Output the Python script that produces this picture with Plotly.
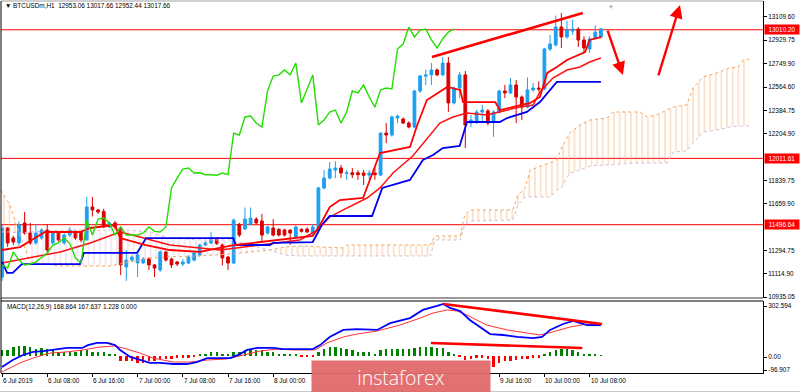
import plotly.graph_objects as go

# ---------------- data ----------------
bars = list(range(107))  # hourly bars from 6 Jul 2019 00:00

opens = [11090, 11471, 11393, 11355, 11510, 11432, 11355, 11393, 11455, 11355,
         11432, 11355, 11416, 11440, 11440, 11380, 11634, 11611, 11600, 11479,
         11510, 11471, 11168, 11222, 11200, 11200, 11230, 11184, 11145, 11285,
         11230, 11207, 11191, 11199, 11222, 11261, 11339, 11355, 11393, 11339,
         11245, 11199, 11500, 11463, 11502, 11540, 11525, 11432, 11471, 11460,
         11455, 11455, 11401, 11460, 11463, 11432, 11455, 11782, 11859, 11921,
         11937, 11895, 11900, 11900, 11898, 11882, 11898, 11882, 12208, 12193,
         12325, 12317, 12286, 12255, 12535, 12650, 12660, 12698, 12660, 12752,
         12442, 12558, 12660, 12286, 12294, 12372, 12380, 12294, 12372, 12535,
         12520, 12582, 12488, 12410, 12543, 12558, 12550, 12861, 12892, 13032,
         12955, 13000, 13016, 12931, 12861, 12947, 12953.06]
highs = [11490, 11479, 11410, 11520, 11596, 11510, 11500, 11470, 11500, 11450,
         11445, 11430, 11480, 11455, 11450, 11712, 11712, 11620, 11620, 11520,
         11525, 11480, 11300, 11260, 11290, 11245, 11245, 11190, 11300, 11295,
         11240, 11215, 11230, 11260, 11290, 11350, 11370, 11440, 11400, 11350,
         11255, 11545, 11510, 11630, 11630, 11555, 11580, 11490, 11540, 11470,
         11465, 11460, 11490, 11470, 11475, 11500, 11790, 11921, 11983, 11990,
         11960, 11921, 11937, 11921, 11921, 11921, 11945, 12215, 12286, 12345,
         12350, 12330, 12300, 12545, 12660, 12700, 12752, 12710, 12799, 12799,
         12570, 12683, 12690, 12350, 12390, 12426, 12395, 12385, 12545, 12582,
         12636, 12620, 12500, 12640, 12598, 12610, 12870, 12970, 13120, 13140,
         13080, 13090, 13030, 12960, 12960, 13047, 13017.66]
lows = [11060, 11324, 11340, 11330, 11420, 11340, 11340, 11380, 11280, 11340,
        11365, 11340, 11400, 11380, 11360, 11370, 11560, 11580, 11470, 11470,
        11460, 11106, 11060, 11210, 11090, 11190, 11145, 11090, 11130, 11210,
        11160, 11175, 11175, 11190, 11210, 11250, 11330, 11345, 11340, 11180,
        11145, 11190, 11400, 11455, 11490, 11500, 11355, 11420, 11405, 11405,
        11405, 11340, 11390, 11435, 11430, 11410, 11440, 11770, 11850, 11859,
        11859, 11845, 11859, 11845, 11805, 11845, 11845, 11875, 12130, 12180,
        12286, 12278, 12245, 12245, 12520, 12582, 12582, 12650, 12650, 12372,
        12430, 12480, 12092, 12255, 12280, 12286, 12270, 12178, 12360, 12480,
        12510, 12286, 12310, 12400, 12530, 12530, 12540, 12845, 12880, 12869,
        12940, 12970, 12877, 12830, 12830, 12940, 12952.44]
closes = [11470, 11355, 11362, 11494, 11432, 11355, 11432, 11455, 11300, 11432,
          11378, 11416, 11455, 11393, 11378, 11634, 11611, 11595, 11479, 11510,
          11479, 11184, 11222, 11245, 11262, 11230, 11184, 11160, 11285, 11222,
          11184, 11191, 11207, 11245, 11277, 11339, 11355, 11393, 11350, 11238,
          11199, 11532, 11416, 11540, 11548, 11510, 11416, 11479, 11416, 11416,
          11416, 11432, 11479, 11445, 11440, 11479, 11782, 11859, 11929, 11937,
          11898, 11900, 11885, 11885, 11880, 11898, 11885, 12208, 12193, 12333,
          12340, 12286, 12255, 12535, 12651, 12660, 12698, 12660, 12752, 12442,
          12558, 12660, 12271, 12310, 12372, 12387, 12286, 12372, 12535, 12520,
          12582, 12488, 12410, 12543, 12558, 12550, 12861, 12900, 13032, 12955,
          13008, 13016, 12931, 12869, 12939, 12992, 13017.66]

# Ichimoku lines (read at their vertices)
kijun_x = [0, 0.9, 1.9, 3.5, 13.8, 14.5, 23.9, 25.5, 40.9, 41.4, 47.4, 48, 55, 56.6, 58,
           65.5, 67.3, 72.2, 74.5, 76.3, 78, 81, 82.3, 88.1, 89.4, 92.9, 95.2, 98.2, 106]
kijun_y = [11207, 11122, 11122, 11191, 11191, 11277, 11277, 11393, 11393, 11339, 11339,
           11355, 11362, 11494, 11564, 11564, 11782, 11844, 11999, 12038, 12092, 12108,
           12294, 12294, 12325, 12372, 12449, 12605, 12605]
tenkan_x = [0, 3.2, 7.6, 13.8, 15.6, 20, 20.9, 25.3, 29.7, 35, 41.2, 45.7, 52.7, 55, 56.3,
            58, 59.8, 63.9, 66.9, 72.2, 73.5, 75.2, 78.8, 81.1, 81.6, 87.3, 88.1, 91.7,
            93.5, 95.2, 96.5, 98.2, 100, 103.2, 104, 106]
tenkan_y = [11300, 11323, 11440, 11440, 11471, 11494, 11393, 11339, 11300, 11285, 11339,
            11362, 11401, 11409, 11494, 11634, 11688, 11704, 12053, 12100, 12271, 12465,
            12566, 12543, 12449, 12449, 12387, 12426, 12442, 12488, 12675, 12721, 12776,
            12838, 12931, 12954]
slow_x = [0, 5, 10.3, 15.6, 20.9, 24.4, 29.7, 38.6, 45.7, 52.7, 55.8, 58, 60.4, 64.6, 66.9,
          69.2, 72.7, 75.5, 77.5, 79.8, 82.3, 85.8, 88.1, 91.7, 94, 95.2, 97.5, 100, 102.3,
          104, 106]
slow_y = [11199, 11238, 11285, 11355, 11440, 11401, 11339, 11300, 11339, 11378, 11455,
          11556, 11611, 11704, 11782, 11898, 12030, 12180, 12286, 12333, 12364, 12349,
          12372, 12411, 12426, 12527, 12636, 12698, 12721, 12760, 12791]
chikou_shift = 26

cloud_x = [-0.2, 1.4, 3.0, 5, 10.3, 19.1, 22.7, 26.2, 29.7, 35, 40.4, 43.9, 47.4, 50.1,
           52.7, 60.4, 61.1, 75.8, 76.6, 81.1, 81.9, 82.8, 90.4, 91.3, 92.6, 93.5, 97,
           98.2, 99.1, 100.5, 102.3, 104.1, 107.1, 108.1, 112.9, 114.2, 115.9, 117.7,
           118.8, 121.2, 122.3, 124.1, 126.5, 128.8, 130.3, 131.2, 132.2]
span_a = [11766, 11650, 11432, 11207, 11176, 11176, 11207, 11238, 11246, 11254, 11269,
          11285, 11300, 11323, 11331, 11316, 11339, 11339, 11409, 11409, 11572, 11611,
          11611, 11727, 11782, 11921, 11976, 11999, 12100, 12209, 12271, 12310, 12325,
          12372, 12372, 12333, 12349, 12387, 12411, 12426, 12558, 12644, 12675, 12714,
          12721, 12776, 12783]
span_b = [11440, 11440, 11432, 11440, 11455, 11455, 11455, 11440, 11393, 11378, 11378,
          11339, 11300, 11261, 11254, 11254, 11254, 11254, 11378, 11378, 11494, 11525,
          11533, 11650, 11712, 11712, 11712, 11766, 11789, 11898, 11921, 11953, 11960,
          11968, 11976, 11976, 11976, 11976, 12061, 12069, 12131, 12216, 12232, 12255,
          12263, 12263, 12263]

levels = [13010.20, 12011.61, 11496.64]
level_labels = ["13010.20", "12011.61", "11496.64"]

trend_x = [76.1, 102.8]
trend_y = [12799, 13141]
arrow_down = dict(x0=107.1, y0=13016, x1=109.9, y1=12659)
arrow_up = dict(x0=116.1, y0=12644, x1=120.0, y1=13203)

# MACD(12,26,9)
macd_x = [0, 1.9, 3.7, 5.5, 7.3, 9, 11.5, 14.2, 15.2, 16.8, 18.6, 20, 20.9, 22.7, 24.4,
          26.2, 28, 30.3, 32.7, 34.5, 36.3, 38.6, 40.4, 42.1, 43.4, 45.1, 48, 49.7, 52.7,
          55, 56.3, 58, 60.4, 62.8, 66.4, 68.7, 72.2, 74.5, 77, 78.1, 79.3, 81.1, 82.8,
          84.6, 86.4, 88.7, 91.2, 94, 95.6, 97, 99.3, 101.1, 102.3, 103.5, 106]
macd_y = [-64, -25, 3, 20, 25, 31, 42, 42, 58, 70, 70, 58, 31, -8, -25, -41, -41, -47, -47,
          -36, -14, -14, -14, 8, 31, 42, 42, 36, 36, 36, 58, 103, 142, 147, 142, 180, 208,
          253, 275, 286, 264, 247, 197, 158, 119, 114, 103, 97, 103, 142, 175, 192, 180,
          169, 168.864]
signal_x = [0, 3.2, 5.5, 8.5, 11.5, 14.3, 17.3, 20, 21.4, 24.4, 26.7, 30.3, 33.3, 36.3,
            39.8, 42.7, 45.7, 48.7, 51.5, 55.4, 57.5, 60.4, 62.8, 66.4, 70.4, 74, 76.3,
            78.8, 80.5, 82.3, 85.8, 89.4, 92.9, 95.2, 97.5, 100.5, 103.5, 106]
signal_y = [-91, -41, -14, 14, 20, 31, 47, 53, 42, 14, -14, -36, -36, -25, -19, 3, 25, 36,
            31, 31, 70, 103, 119, 136, 169, 208, 236, 253, 247, 225, 169, 142, 125, 114,
            131, 158, 175, 167.637]
hist = [28, 33, 50, 55, 55, 50, 39, 44, 39, 28,
        22, 17, 17, 22, 28, 28, 22, 17, 17, 11,
        6, -28, -33, -33, -39, -44, -33, -28, -17, -17,
        -17, -11, -11, -11, -6, 6, 11, 17, 17, 11,
        6, 17, 22, 28, 33, 33, 28, 22, 17, 11,
        11, 6, 6, -3, -3, -3, 22, 39, 50, 50,
        44, 39, 28, 22, 17, 22, 11, 28, 39, 39,
        39, 39, 39, 44, 50, 50, 50, 44, 44, 17,
        3, -6, -22, -17, -11, -11, -17, -61, -39, -33,
        -28, -22, -17, -17, -11, -11, 11, 17, 33, 39,
        39, 33, 22, 11, 6, 6, 1.228]
macd_trend_hi_x = [78.1, 106.2]
macd_trend_hi_y = [286, 175]
macd_trend_lo_x = [75.9, 102.7]
macd_trend_lo_y = [69.5, 41.8]
macd_range = [-96.907, 302.594]

time_tick_bars = [0, 8, 16, 24, 32, 40, 48, 88, 96, 104]
time_tick_labels = ["6 Jul 2019", "6 Jul 08:00", "6 Jul 16:00", "7 Jul 00:00", "7 Jul 08:00",
                    "7 Jul 16:00", "8 Jul 00:00", "9 Jul 16:00", "10 Jul 00:00", "10 Jul 08:00"]
price_ticks = [13109.60, 12929.75, 12749.90, 12564.60, 12384.75, 12204.90, 11839.75,
               11659.90, 11294.75, 11114.90, 10935.05]
price_tick_text = ["13109.60", "12929.75", "12749.90", "12564.60", "12384.75", "12204.90",
                   "11839.75", "11659.90", "11294.75", "11114.90", "10935.05"]
macd_tick_vals = [274.8, -8.2, -80.3]
macd_tick_text = ["302.594", "0.00", "-96.907"]

header = "▼ BTCUSDm,H1  12953.06 13017.66 12952.44 13017.66"
macd_header = "MACD(12,26,9) 168.864 167.637 1.228 0.000"

# ---------------- styling ----------------
BULL = '#1f9ff0'
BEAR = '#d80000'
FONT = 'Liberation Sans'
FS = 6.4
SANDY = '#f4a460'
THISTLE = '#d8b8d8'

fig = go.Figure()

# Kumo cloud, split where span A and span B cross
cuts = [0] + [k for k in range(1, len(cloud_x) - 1) if span_a[k] == span_b[k]] + [len(cloud_x) - 1]
for s, e in zip(cuts[:-1], cuts[1:]):
    k = next(j for j in range(s, e + 1) if span_a[j] != span_b[j])
    col = SANDY if span_a[k] > span_b[k] else THISTLE
    xs = cloud_x[s:e + 1]
    fig.add_trace(go.Scatter(
        x=xs + xs[::-1], y=span_a[s:e + 1] + span_b[s:e + 1][::-1],
        fill='toself', mode='none', fillcolor='rgba(0,0,0,0)',
        fillpattern=dict(shape='|', fgcolor=col, bgcolor='rgba(0,0,0,0)',
                         size=5.65, solidity=0.18, fgopacity=0.6),
        hoverinfo='skip', showlegend=False, xaxis='x', yaxis='y'))
fig.add_trace(go.Scatter(x=cloud_x, y=span_a, mode='lines',
                         line=dict(color=SANDY, width=1, dash='dot'),
                         showlegend=False, xaxis='x', yaxis='y'))
fig.add_trace(go.Scatter(x=cloud_x, y=span_b, mode='lines',
                         line=dict(color=THISTLE, width=1, dash='dot'),
                         showlegend=False, xaxis='x', yaxis='y'))

# candles
fig.add_trace(go.Candlestick(
    x=bars, open=opens, high=highs, low=lows, close=closes,
    increasing=dict(line=dict(color=BULL, width=1), fillcolor=BULL),
    decreasing=dict(line=dict(color=BEAR, width=1), fillcolor=BEAR),
    whiskerwidth=0, showlegend=False, xaxis='x', yaxis='y'))

# Ichimoku lines
fig.add_trace(go.Scatter(x=slow_x, y=slow_y, mode='lines', line=dict(color='#ff1010', width=1.5),
                         showlegend=False, xaxis='x', yaxis='y'))
fig.add_trace(go.Scatter(x=kijun_x, y=kijun_y, mode='lines', line=dict(color='#0000ee', width=1.8),
                         showlegend=False, xaxis='x', yaxis='y'))
fig.add_trace(go.Scatter(x=tenkan_x, y=tenkan_y, mode='lines', line=dict(color='#ff0000', width=1.8),
                         showlegend=False, xaxis='x', yaxis='y'))
fig.add_trace(go.Scatter(x=bars[:len(bars) - chikou_shift], y=closes[chikou_shift:], mode='lines',
                         line=dict(color='#22dd00', width=1.4),
                         showlegend=False, xaxis='x', yaxis='y'))
fig.add_trace(go.Scatter(x=trend_x, y=trend_y, mode='lines', line=dict(color='#ff0000', width=2.6),
                         showlegend=False, xaxis='x', yaxis='y'))

# MACD panel
fig.add_trace(go.Bar(x=bars, y=hist, width=0.42,
                     marker=dict(color=['#008000' if v >= 0 else '#ff0000' for v in hist], line_width=0),
                     showlegend=False, xaxis='x2', yaxis='y2'))
fig.add_trace(go.Scatter(x=signal_x, y=signal_y, mode='lines', line=dict(color='#ff3030', width=1),
                         showlegend=False, xaxis='x2', yaxis='y2'))
fig.add_trace(go.Scatter(x=macd_x, y=macd_y, mode='lines', line=dict(color='#0000ff', width=1.8),
                         showlegend=False, xaxis='x2', yaxis='y2'))
fig.add_trace(go.Scatter(x=macd_trend_hi_x, y=macd_trend_hi_y, mode='lines',
                         line=dict(color='#ff0000', width=2.6), showlegend=False, xaxis='x2', yaxis='y2'))
fig.add_trace(go.Scatter(x=macd_trend_lo_x, y=macd_trend_lo_y, mode='lines',
                         line=dict(color='#ff0000', width=2.6), showlegend=False, xaxis='x2', yaxis='y2'))

MAIN_DOM = [75 / 372, 1]
MACD_DOM = [0, 72 / 372]

shapes = []
for lv in levels:
    shapes.append(dict(type='line', xref='x domain', yref='y', x0=0, x1=1, y0=lv, y1=lv,
                       line=dict(color='#ff0000', width=1), layer='below'))
shapes += [
    dict(type='line', xref='paper', yref='paper', x0=0, x1=1, y0=MAIN_DOM[0], y1=MAIN_DOM[0],
         line=dict(color='#9a9a9a', width=2)),
    dict(type='line', xref='paper', yref='paper', x0=0, x1=1, y0=MACD_DOM[1], y1=MACD_DOM[1],
         line=dict(color='#000000', width=1)),
    dict(type='line', xref='paper', yref='paper', x0=0, x1=1, y0=1, y1=1,
         line=dict(color='#a0a0a0', width=1)),
    dict(type='line', xref='paper', yref='paper', x0=0, x1=0, y0=0, y1=1,
         line=dict(color='#000000', width=1)),
    dict(type='rect', xref='paper', yref='paper', x0=-0.01, x1=1.06, y0=-0.0485, y1=-0.056,
         line=dict(width=0), fillcolor='#c8c8c8'),
]

annotations = []
annotations.append(dict(xref='paper', yref='paper', x=0.002, y=0.988, xanchor='left', yanchor='middle',
                        text=header, showarrow=False, font=dict(family=FONT, size=FS, color='#000')))
annotations.append(dict(xref='paper', yref='paper', x=0.005, y=0.177, xanchor='left', yanchor='middle',
                        text=macd_header, showarrow=False, font=dict(family=FONT, size=FS, color='#000')))
for b, t in zip(time_tick_bars, time_tick_labels):
    annotations.append(dict(xref='x2', yref='paper', x=b, y=-0.0215, xanchor='left', yanchor='middle',
                            xshift=-1, text=t, showarrow=False,
                            font=dict(family=FONT, size=FS, color='#000')))
for lv, t in zip(levels, level_labels):
    annotations.append(dict(xref='paper', yref='y', x=1, y=lv, xanchor='left', yanchor='middle',
                            xshift=1, text=t, showarrow=False, bgcolor='#ff0000', width=33, height=8,
                            borderpad=0.5, font=dict(family=FONT, size=FS, color='#ffffff')))
for a in (arrow_down, arrow_up):
    annotations.append(dict(xref='x', yref='y', axref='x', ayref='y', x=a['x1'], y=a['y1'],
                            ax=a['x0'], ay=a['y0'], showarrow=True, arrowhead=2, arrowsize=1.1,
                            arrowwidth=2.4, arrowcolor='#ff0000', text=''))
annotations.append(dict(xref='paper', yref='paper', x=0.8, y=1.0, xanchor='center', yanchor='top',
                        text='▼', showarrow=False, font=dict(size=6, color='#b0b0b0')))
# instaforex badge
annotations.append(dict(xref='paper', yref='paper', x=(401 - 1) / 762, y=(373 - 376.5) / 372,
                        xanchor='center', yanchor='middle', text='instaforex', showarrow=False,
                        width=176, height=30, bgcolor='#e26a6a', opacity=0.95,
                        font=dict(family='Open Sans', size=19.5, color='#ffffff', weight=300)))

axis_font = dict(family=FONT, size=FS, color='#000')
fig.update_layout(
    width=800, height=392,
    margin=dict(l=1, r=37, t=1, b=19),
    paper_bgcolor='white', plot_bgcolor='white',
    showlegend=False, bargap=0,
    xaxis=dict(domain=[0, 1], range=[-0.18, 134.69], anchor='y', showticklabels=False,
               showgrid=False, zeroline=False, showline=False, rangeslider=dict(visible=False),
               fixedrange=True),
    xaxis2=dict(domain=[0, 1], matches='x', anchor='y2', showgrid=False, zeroline=False,
                showline=True, linecolor='#000', linewidth=1, ticks='outside', ticklen=3,
                tickcolor='#000', tickvals=time_tick_bars, showticklabels=False),
    yaxis=dict(domain=MAIN_DOM, range=[10927.3, 13233.8], side='right', anchor='x',
               showgrid=False, zeroline=False, showline=True, linecolor='#000', linewidth=1,
               ticks='outside', ticklen=3, tickcolor='#000', tickvals=price_ticks,
               ticktext=price_tick_text, tickfont=axis_font),
    yaxis2=dict(domain=MACD_DOM, range=macd_range, side='right', anchor='x2',
                showgrid=False, zeroline=False, showline=True, linecolor='#000', linewidth=1,
                ticks='outside', ticklen=3, tickcolor='#000', tickvals=macd_tick_vals,
                ticktext=macd_tick_text, tickfont=axis_font),
    shapes=shapes, annotations=annotations,
)

fig.write_html("out.html",
               config={'displayModeBar': False},
               post_script="document.body.style.margin='0';document.body.style.padding='0';"
                           "document.documentElement.style.overflow='hidden';")
